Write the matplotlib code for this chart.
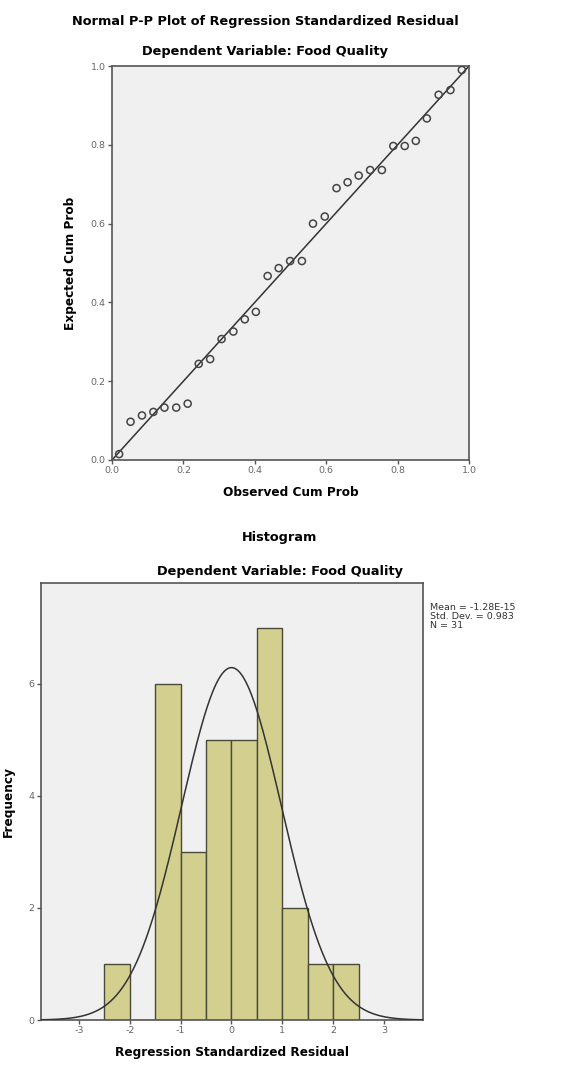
import numpy as np
import matplotlib
matplotlib.use("Agg")
import matplotlib.pyplot as plt

plt.rcParams['axes.unicode_minus'] = False

# P-P plot points
observed = [0.02, 0.052, 0.084, 0.116, 0.147, 0.180, 0.212, 0.243, 0.275, 0.307,
            0.340, 0.372, 0.403, 0.436, 0.467, 0.499, 0.532, 0.563, 0.596, 0.629,
            0.660, 0.691, 0.723, 0.756, 0.788, 0.820, 0.851, 0.882, 0.915, 0.948,
            0.980]
expected = [0.015, 0.097, 0.113, 0.122, 0.133, 0.133, 0.143, 0.244, 0.256, 0.307,
            0.326, 0.357, 0.376, 0.467, 0.487, 0.505, 0.505, 0.600, 0.618, 0.690,
            0.705, 0.722, 0.736, 0.736, 0.797, 0.797, 0.810, 0.867, 0.927, 0.939,
            0.990]

# histogram of residuals
bin_edges = [-2.5, -2.0, -1.5, -1.0, -0.5, 0.0, 0.5, 1.0, 1.5, 2.0, 2.5]
counts = [1, 0, 6, 3, 5, 5, 7, 2, 1, 1]
mean = -1.28e-15
sd = 0.983
n = 31

bg = '#f0f0f0'
spine_c = '#555555'
tick_c = '#666666'

fig = plt.figure(figsize=(5.79, 10.7), dpi=100)

def style(ax):
    ax.set_facecolor(bg)
    for s in ax.spines.values():
        s.set_color(spine_c)
        s.set_linewidth(1.2)
    ax.tick_params(axis='both', colors=spine_c, labelcolor=tick_c, labelsize=6.8,
                   length=3, width=1, pad=1.5)

# ---- P-P plot ----
ax1 = fig.add_axes([0.1934, 0.5701, 0.6166, 0.3682])
style(ax1)
ax1.plot([0, 1], [0, 1], color='#333333', linewidth=1.1)
ax1.scatter(observed, expected, s=26, facecolors='none', edgecolors='#444444',
            linewidths=1.1, zorder=3)
ax1.set_xlim(0, 1)
ax1.set_ylim(0, 1)
ax1.set_xticks(np.arange(0, 1.01, 0.2))
ax1.set_yticks(np.arange(0, 1.01, 0.2))
ax1.xaxis.set_major_formatter(matplotlib.ticker.FormatStrFormatter('%.1f'))
ax1.yaxis.set_major_formatter(matplotlib.ticker.FormatStrFormatter('%.1f'))
ax1.set_xlabel('Observed Cum Prob', fontsize=8.7, fontweight='bold', labelpad=8)
ax1.set_ylabel('Expected Cum Prob', fontsize=8.7, fontweight='bold', labelpad=10)
fig.text(0.458, 1 - 22 / 1070, 'Normal P-P Plot of Regression Standardized Residual',
         ha='center', va='center', fontsize=9.3, fontweight='bold')
fig.text(0.458, 1 - 52 / 1070, 'Dependent Variable: Food Quality',
         ha='center', va='center', fontsize=9.3, fontweight='bold')

# ---- Histogram ----
ax2 = fig.add_axes([0.0708, 0.0467, 0.6598, 0.4084])
style(ax2)
widths = np.diff(bin_edges)
ax2.bar(bin_edges[:-1], counts, width=widths, align='edge', color='#d3d08f',
        edgecolor='#4a4a3a', linewidth=1.0, zorder=2)
xs = np.linspace(-3.8, 3.8, 400)
binw = 0.5
curve = n * binw * np.exp(-0.5 * ((xs - mean) / sd) ** 2) / (sd * np.sqrt(2 * np.pi))
ax2.plot(xs, curve, color='#333333', linewidth=1.1, zorder=3)
ax2.set_xlim(-3.75, 3.77)
ax2.set_ylim(0, 7.8)
ax2.set_xticks([-3, -2, -1, 0, 1, 2, 3])
ax2.set_yticks([0, 2, 4, 6])
ax2.set_xlabel('Regression Standardized Residual', fontsize=8.7, fontweight='bold', labelpad=8)
ax2.set_ylabel('Frequency', fontsize=8.7, fontweight='bold', labelpad=10)
fig.text(280 / 579, 1 - 537 / 1070, 'Histogram', ha='center', va='center',
         fontsize=9.3, fontweight='bold')
fig.text(280 / 579, 1 - 571 / 1070, 'Dependent Variable: Food Quality',
         ha='center', va='center', fontsize=9.3, fontweight='bold')
fig.text(430 / 579, 1 - 603 / 1070,
         'Mean = -1.28E-15\nStd. Dev. = 0.983\nN = 31',
         ha='left', va='top', fontsize=6.8, color='#333333', linespacing=1.0)

fig.savefig('out.png', dpi=100)
